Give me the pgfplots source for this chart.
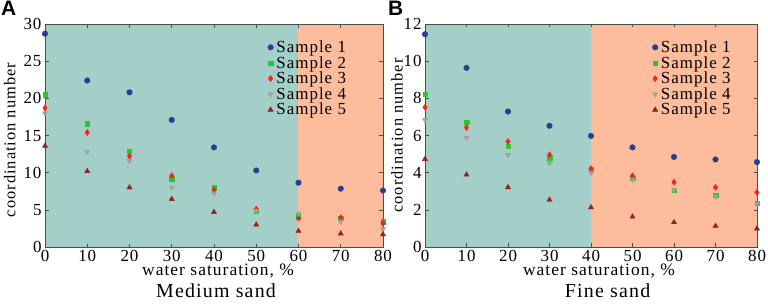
\documentclass[border=0pt]{standalone}
\usepackage{fontspec}
\setmainfont{Liberation Serif}[LetterSpace=6]
\newfontfamily\arial{Liberation Sans}
\usepackage{pgfplots}
\pgfplotsset{compat=1.18}
\usepackage{pgfplotstable}
\definecolor{bgteal}{RGB}{163,207,200}
\definecolor{bgorange}{RGB}{253,189,156}
\definecolor{cblue}{RGB}{40,62,150}
\definecolor{cgreen}{RGB}{40,200,40}
\definecolor{cred}{RGB}{255,30,30}
\definecolor{cgray}{RGB}{160,160,160}
\definecolor{cdred}{RGB}{155,30,25}

\pgfplotstableread{
x s1 s2 s3 s4 s5
0 28.7 20.5 18.7 18.0 13.6
10 22.4 16.6 15.4 12.8 10.2
20 20.8 12.9 12.2 11.6 8.0
30 17.1 9.2 9.6 8.0 6.45
40 13.4 8.0 7.7 7.2 4.7
50 10.3 4.9 5.1 4.9 3.0
60 8.65 4.1 3.9 4.5 2.15
70 7.85 3.85 3.95 3.4 1.8
80 7.6 3.4 3.2 2.4 1.7
}\dataA

\pgfplotstableread{
x s1 s2 s3 s4 s5
0 11.45 8.22 7.52 6.84 4.73
10 9.64 6.73 6.43 5.89 3.89
20 7.29 5.41 5.68 4.96 3.21
30 6.52 4.80 4.96 4.51 2.54
40 5.98 4.16 4.21 3.99 2.13
50 5.36 3.71 3.83 3.62 1.63
60 4.85 3.06 3.49 3.06 1.33
70 4.71 2.78 3.21 2.72 1.13
80 4.57 2.36 2.94 2.33 0.99
}\dataB

\pgfplotsset{
  myax/.style={
    scale only axis, height=223bp, clip=false,
    xmin=0, xmax=80, xtick={0,10,...,80},
    tick align=inside, xtick pos=both, ytick pos=both,
    axis line style={draw=black!70, line width=0.8pt},
    major tick style={black!70, line width=0.6pt},
    major tick length=3.5bp,
    ticklabel style={font=\fontsize{17}{17}\selectfont},
    xticklabel style={inner sep=1bp, yshift=-2.4bp},
    /pgf/number format/assume math mode=true,
    axis on top,
    legend style={draw=none, fill=none, font=\fontsize{17}{17}\selectfont,
      row sep=-1.6bp, anchor=north east, inner sep=0pt,
      nodes={inner xsep=3bp}},
    legend cell align=left,
  },
  s1/.style={only marks, mark=*, mark size=2.8bp, mark options={draw=cblue, fill=cblue}},
  s2/.style={only marks, mark=square*, mark size=2.2bp, mark options={draw=cgreen, fill=cgreen}},
  s3/.style={only marks, mark=diamond*, mark size=3bp, mark options={draw=cred, fill=cred}},
  s4/.style={only marks, mark=triangle*, mark size=3bp, mark options={draw=cgray, fill=cgray, rotate=180}},
  s5/.style={only marks, mark=triangle*, mark size=3bp, mark options={draw=cdred, fill=cdred}},
}

\begin{document}
\begin{tikzpicture}
\useasboundingbox (0,0) rectangle (768bp,306bp);
\node[anchor=north west, inner sep=0pt] at (1bp,305bp) {\arial\bfseries\fontsize{21}{21}\selectfont A};
\node[anchor=north west, inner sep=0pt] at (388bp,305bp) {\arial\bfseries\fontsize{21}{21}\selectfont B};

\begin{axis}[myax, at={(45bp,59bp)}, anchor=south west, width=338bp,
  ymin=0, ymax=30, ytick={0,5,...,30},
  legend style={at={(0.9,0.935)}}]
\addplot[fill=bgteal, draw=none, forget plot] coordinates {(0,0) (60,0) (60,30) (0,30)} -- cycle;
\addplot[fill=bgorange, draw=none, forget plot] coordinates {(60,0) (80,0) (80,30) (60,30)} -- cycle;
\addplot[s1] table[x=x, y=s1] {\dataA};
\addplot[s2] table[x=x, y=s2] {\dataA};
\addplot[s3] table[x=x, y=s3] {\dataA};
\addplot[s4] table[x=x, y=s4] {\dataA};
\addplot[s5] table[x=x, y=s5] {\dataA};
\legend{Sample 1, Sample 2, Sample 3, Sample 4, Sample 5}
\node[rotate=90, font=\fontsize{16.5}{16.5}\selectfont] at (axis description cs:-0.104,0.48) {coordination number};
\node[inner sep=0pt, font=\fontsize{17.5}{17.5}\selectfont] at (axis description cs:0.512,-0.109) {water saturation, \%};
\node[inner sep=0pt, font=\fontsize{20}{20}\selectfont] at (axis description cs:0.506,-0.195) {Medium sand};
\end{axis}

\begin{axis}[myax, at={(425bp,59bp)}, anchor=south west, width=332bp,
  ymin=0, ymax=12, ytick={0,2,...,12},
  legend style={at={(0.93,0.935)}}]
\addplot[fill=bgteal, draw=none, forget plot] coordinates {(0,0) (40,0) (40,12) (0,12)} -- cycle;
\addplot[fill=bgorange, draw=none, forget plot] coordinates {(40,0) (80,0) (80,12) (40,12)} -- cycle;
\addplot[s1] table[x=x, y=s1] {\dataB};
\addplot[s2] table[x=x, y=s2] {\dataB};
\addplot[s3] table[x=x, y=s3] {\dataB};
\addplot[s4] table[x=x, y=s4] {\dataB};
\addplot[s5] table[x=x, y=s5] {\dataB};
\legend{Sample 1, Sample 2, Sample 3, Sample 4, Sample 5}
\node[rotate=90, font=\fontsize{16.5}{16.5}\selectfont] at (axis description cs:-0.084,0.5) {coordination number};
\node[inner sep=0pt, font=\fontsize{17.5}{17.5}\selectfont] at (axis description cs:0.524,-0.109) {water saturation, \%};
\node[inner sep=0pt, font=\fontsize{20}{20}\selectfont] at (axis description cs:0.55,-0.195) {Fine sand};
\end{axis}
\end{tikzpicture}
\end{document}
